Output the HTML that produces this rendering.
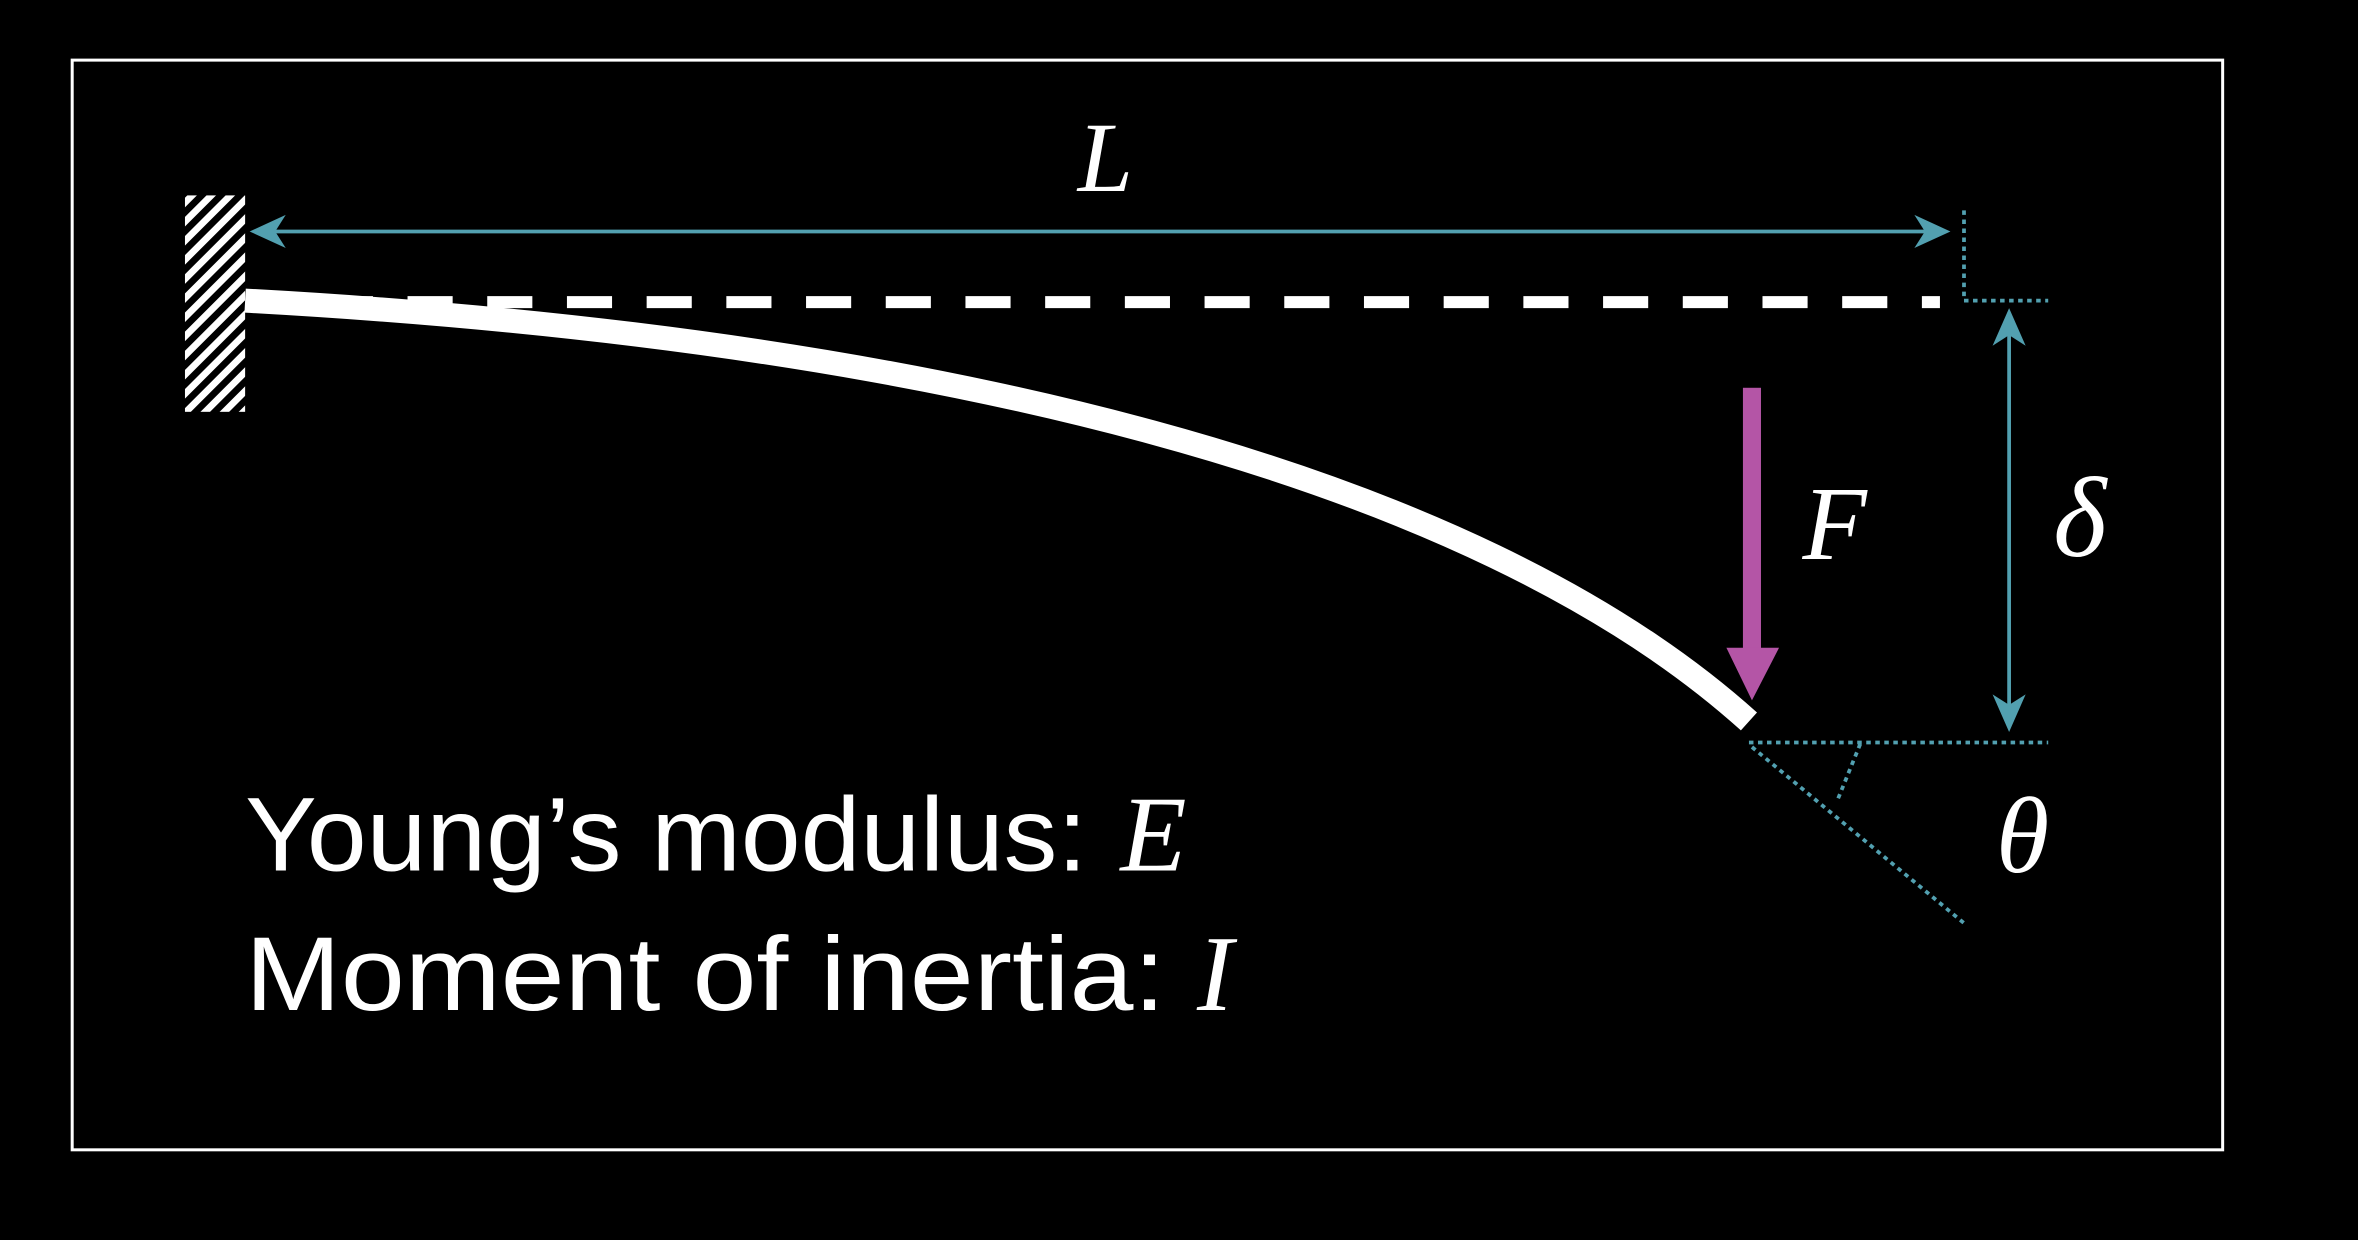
<!DOCTYPE html>
<html><head><meta charset="utf-8"><style>
html,body{margin:0;padding:0;background:#000;width:2358px;height:1240px;overflow:hidden}
svg{display:block}
.m{font-family:"Liberation Serif",serif;font-style:italic;fill:#fff}
.t{font-family:"Liberation Sans",sans-serif;fill:#fff}
</style></head><body>
<svg width="2358" height="1240" viewBox="0 0 1568 825" preserveAspectRatio="none">
<defs>
<pattern id="hatch" width="9" height="9" patternUnits="userSpaceOnUse" patternTransform="rotate(45)">
<rect width="4.5" height="9" fill="#fff"/></pattern>
</defs>
<rect width="1568" height="825" fill="#000"/>
<rect x="48" y="40" width="1430" height="725" fill="none" stroke="#fff" stroke-width="2"/>
<rect x="123" y="130" width="40" height="144" fill="url(#hatch)"/>
<g fill="#52a0b0">
<line x1="175" y1="154" x2="1285" y2="154" stroke="#52a0b0" stroke-width="2.5"/>
<polygon points="166,154 190,143 183,154 190,165"/>
<polygon points="1297,154 1273,143 1280,154 1273,165"/>
</g>
<text class="m" x="735" y="127" font-size="66" text-anchor="middle">L</text>
<line x1="165" y1="201" x2="1290" y2="201" stroke="#fff" stroke-width="8" stroke-dasharray="30,23"/>
<path d="M163,200 C620,225 980,315 1163,480" fill="none" stroke="#fff" stroke-width="16"/>
<g stroke="#52a0b0" stroke-width="2.5" stroke-dasharray="3,3" fill="none">
<polyline points="1306,140 1306,200 1362,200"/>
<line x1="1163" y1="494" x2="1362" y2="494"/>
<line x1="1165" y1="497" x2="1307" y2="615"/>
<line x1="1237" y1="495" x2="1222" y2="532"/>
</g>
<g fill="#b455a6">
<rect x="1159" y="258" width="12" height="175"/>
<polygon points="1148,431 1183,431 1165,466"/>
</g>
<text class="m" x="1220" y="372" font-size="70" text-anchor="middle">F</text>
<g fill="#52a0b0">
<line x1="1336" y1="215" x2="1336" y2="478" stroke="#52a0b0" stroke-width="2.5"/>
<polygon points="1336,205 1325,230 1336,223 1347,230"/>
<polygon points="1336,487 1325,462 1336,469 1347,462"/>
</g>
<text class="m" x="1383" y="370" font-size="76" text-anchor="middle">δ</text>
<text class="m" x="1345" y="580" font-size="72" text-anchor="middle">θ</text>
<text class="t" x="163" y="579" font-size="70" textLength="560" lengthAdjust="spacingAndGlyphs">Young’s modulus:</text>
<text class="m" x="745" y="579" font-size="72">E</text>
<text class="t" x="163" y="672" font-size="70" textLength="612" lengthAdjust="spacingAndGlyphs">Moment of inertia:</text>
<text class="m" x="796" y="672" font-size="72">I</text>
</svg>
</body></html>
